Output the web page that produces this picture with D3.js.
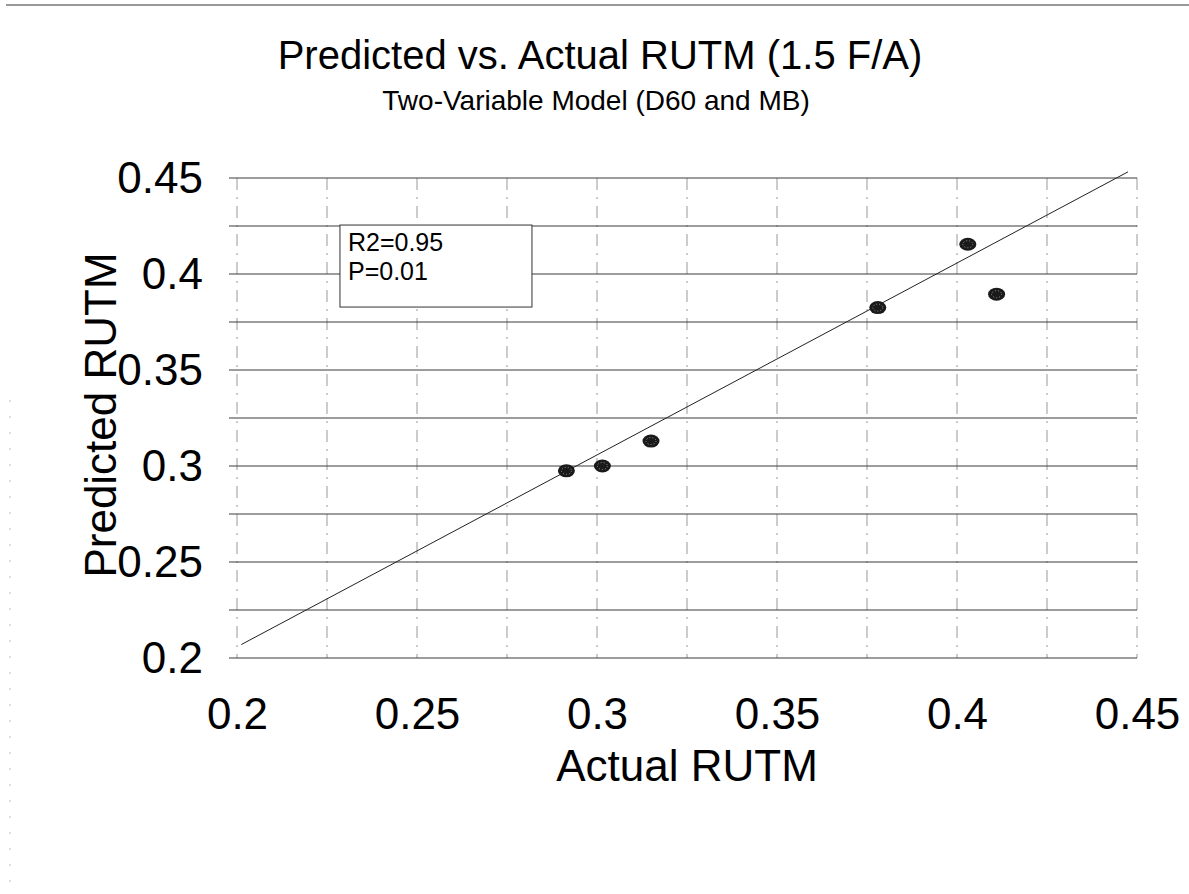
<!DOCTYPE html>
<html>
<head>
<meta charset="utf-8">
<script src="https://cdn.jsdelivr.net/npm/d3@7"></script>
<style>
  body { margin: 0; background: #fff; }
  text { font-family: "Liberation Sans", Arial, sans-serif; fill: #000; }
</style>
</head>
<body>
<div id="chart"></div>
<script>
// data
var actual    = [0.2915, 0.3015, 0.3150, 0.3780, 0.4030, 0.4110];
var predicted = [0.2975, 0.3000, 0.3130, 0.3825, 0.4155, 0.3895];
// fitted line end points
var fitX = [0.2012, 0.4475];
var fitY = [0.2070, 0.4532];
var xTicks = [0.2, 0.25, 0.3, 0.35, 0.4, 0.45];
var yTicks = [0.2, 0.25, 0.3, 0.35, 0.4, 0.45];
var gridStep = [0.2, 0.225, 0.25, 0.275, 0.3, 0.325, 0.35, 0.375, 0.4, 0.425, 0.45];
var statLines = ["R2=0.95", "P=0.01"];

// set the dimensions and margins of the graph
var W = 1189, H = 894;
var margin = {top: 178, right: 52, bottom: 236, left: 237},
    width = W - margin.left - margin.right,
    height = H - margin.top - margin.bottom;

var root = d3.select("#chart")
  .append("svg")
    .attr("width", W)
    .attr("height", H);

// scan border along the top and faint dots on the left
root.append("line")
  .attr("x1", 6).attr("x2", 1189).attr("y1", 5).attr("y2", 5)
  .style("stroke", "#777").style("stroke-width", 1.5);
root.append("line")
  .attr("x1", 10).attr("x2", 10).attr("y1", 400).attr("y2", 894)
  .style("stroke", "#bbb").style("stroke-width", 1)
  .style("stroke-dasharray", "2,14");

// titles
root.append("text")
  .attr("x", 600).attr("y", 69)
  .attr("text-anchor", "middle")
  .style("font-size", "40px")
  .text("Predicted vs. Actual RUTM (1.5 F/A)");
root.append("text")
  .attr("x", 596).attr("y", 110)
  .attr("text-anchor", "middle")
  .style("font-size", "28px")
  .text("Two-Variable Model (D60 and MB)");

var svg = root.append("g")
  .attr("transform", "translate(" + margin.left + "," + margin.top + ")");

var x = d3.scaleLinear().domain([0.2, 0.45]).range([0, width]);
var y = d3.scaleLinear().domain([0.2, 0.45]).range([height, 0]);

// vertical grid (dash-dot, light) and horizontal grid (solid, dark)
svg.selectAll(".vgrid")
  .data(gridStep)
  .enter().append("line")
    .attr("class", "vgrid")
    .attr("x1", function(d) { return x(d); })
    .attr("x2", function(d) { return x(d); })
    .attr("y1", 0).attr("y2", height)
    .style("stroke", "#999")
    .style("stroke-width", 1)
    .style("stroke-dasharray", "12,7,2,7");

svg.selectAll(".hgrid")
  .data(gridStep)
  .enter().append("line")
    .attr("class", "hgrid")
    .attr("x1", -8).attr("x2", width)
    .attr("y1", function(d) { return y(d); })
    .attr("y2", function(d) { return y(d); })
    .style("stroke", "#3a3a3a")
    .style("stroke-width", 1);

// axes: labels only
var fmt = function(d) { return String(+d.toFixed(2)); };
svg.append("g")
  .attr("transform", "translate(0," + height + ")")
  .call(d3.axisBottom(x).tickValues(xTicks).tickSize(0).tickPadding(40).tickFormat(fmt));
svg.append("g")
  .call(d3.axisLeft(y).tickValues(yTicks).tickSize(0).tickPadding(34).tickFormat(fmt));
svg.selectAll(".domain").remove();
svg.selectAll(".tick text")
  .style("font-family", "'Liberation Sans', Arial, sans-serif")
  .style("font-size", "44px")
  .attr("fill", "#000");

// axis titles
svg.append("text")
  .attr("x", width / 2).attr("y", height + 123)
  .attr("text-anchor", "middle")
  .style("font-size", "44px")
  .text("Actual RUTM");
svg.append("text")
  .attr("transform", "translate(-121," + (height / 2 - 3) + ") rotate(-90)")
  .attr("text-anchor", "middle")
  .style("font-size", "44px")
  .text("Predicted RUTM");

// stats box
var box = svg.append("g")
  .attr("transform", "translate(" + (x(0.2286)) + "," + (y(0.4255)) + ")");
box.append("rect")
  .attr("width", 192).attr("height", 82)
  .style("fill", "#fff")
  .style("stroke", "#333")
  .style("stroke-width", 1);
box.selectAll("text")
  .data(statLines)
  .enter().append("text")
    .attr("x", 8)
    .attr("y", function(d, i) { return 26 + i * 29; })
    .style("font-size", "25px")
    .text(function(d) { return d; });

// fitted line
svg.append("line")
  .attr("x1", x(fitX[0])).attr("y1", y(fitY[0]))
  .attr("x2", x(fitX[1])).attr("y2", y(fitY[1]))
  .style("stroke", "#222")
  .style("stroke-width", 1);

// points
var pts = actual.map(function(d, i) { return {a: d, p: predicted[i]}; });
svg.selectAll(".dot")
  .data(pts)
  .enter().append("ellipse")
    .attr("class", "dot")
    .attr("cx", function(d) { return x(d.a); })
    .attr("cy", function(d) { return y(d.p); })
    .attr("rx", 8.5).attr("ry", 6.5)
    .style("fill", "#1a1a1a");
svg.selectAll(".dotspeck")
  .data(pts)
  .enter().append("ellipse")
    .attr("class", "dotspeck")
    .attr("cx", function(d) { return x(d.a); })
    .attr("cy", function(d) { return y(d.p); })
    .attr("rx", 5).attr("ry", 3.5)
    .style("fill", "none")
    .style("stroke", "#999")
    .style("stroke-width", 1)
    .style("stroke-dasharray", "1,2");
</script>
</body>
</html>
